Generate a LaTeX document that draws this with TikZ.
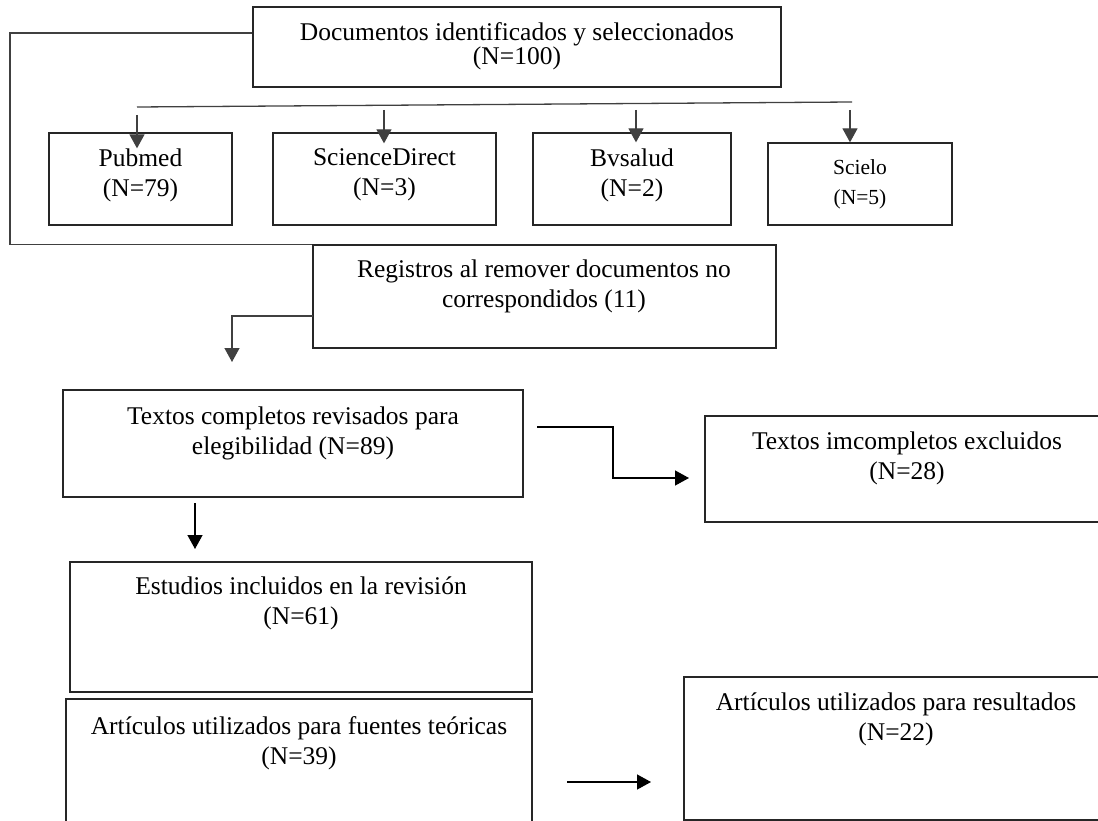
\documentclass[tikz,border=0pt]{standalone}
\usepackage{fontspec}
\setmainfont{Liberation Serif}
\usetikzlibrary{arrows.meta}
\definecolor{gl}{HTML}{404040}
\begin{document}
\begin{tikzpicture}[x=1pt,y=-1pt,
  box/.style={draw=black!85, line width=1.3pt, inner sep=0pt},
  lbl/.style={align=center, inner sep=0pt, font=\fontsize{25.5}{30}\selectfont},
  lbltight/.style={align=center, inner sep=0pt, font=\fontsize{25.5}{24}\selectfont},
  lblsmall/.style={align=center, inner sep=0pt, font=\fontsize{21.5}{30}\selectfont},
  gline/.style={draw=gl, line width=1.3pt},
  garr/.style={gline, -{Triangle[width=15pt,length=14pt]}},
  barr/.style={draw=black, line width=1.3pt, -{Triangle[width=15pt,length=14pt]}},
]
\useasboundingbox (0,0) rectangle (1098,821);

% boxes
\node[box, minimum width=528pt, minimum height=80pt] (top) at (517,47) {};
\node[box, minimum width=183pt, minimum height=92pt] (pub) at (140.5,179) {};
\node[box, minimum width=223pt, minimum height=92pt] (sci) at (384.5,179) {};
\node[box, minimum width=198pt, minimum height=92pt] (bvs) at (632,179) {};
\node[box, minimum width=184pt, minimum height=82pt] (sce) at (860,184) {};
\node[box, minimum width=463pt, minimum height=103pt] (reg) at (544.5,296.5) {};
\node[box, minimum width=460pt, minimum height=107pt] (txc) at (293,443.5) {};
\node[box, minimum width=404pt, minimum height=106pt] (txi) at (907,469) {};
\node[box, minimum width=462pt, minimum height=130pt] (est) at (301,627) {};
\node[box, minimum width=466pt, minimum height=136pt] (teo) at (299,767) {};
\node[box, minimum width=425pt, minimum height=143pt] (res) at (896.5,748.5) {};

% texts
\node[lbltight] (topt) at (517,46) {Documentos identificados y seleccionados\\(N=100)};
\node[lbl] (pubt) at (140.5,175) {Pubmed\\(N=79)};
\node[lbl] (scit) at (384.5,175) {ScienceDirect\\(N=3)};
\node[lbl] (bvst) at (632,175) {Bvsalud\\(N=2)};
\node[lblsmall] (scet) at (860,184) {Scielo\\(N=5)};
\node[lbl] (regt) at (544,286) {Registros al remover documentos no\\correspondidos (11)};
\node[lbl] (txct) at (293,433) {Textos completos revisados para\\elegibilidad (N=89)};
\node[lbl] (txit) at (907,458) {Textos imcompletos excluidos\\(N=28)};
\node[lbl] (estt) at (301,603) {Estudios incluidos en la revisión\\(N=61)};
\node[lbl] (teot) at (299,743) {Artículos utilizados para fuentes teóricas\\(N=39)};
\node[lbl] (rest) at (896,719) {Artículos utilizados para resultados\\(N=22)};

% bracket from top box to Registros
\coordinate (brk) at (10,33);
\draw[gline] (top.west |- brk) -| (brk |- reg.north) -- (reg.north west);

% distribution line
\coordinate (dl) at (137,107);
\coordinate (dr) at (852,102);
\draw[gline] (dl) -- (dr);

\coordinate (s1) at (137,115);
\coordinate (s2) at (384,110);
\coordinate (s3) at (636,110);
\coordinate (s4) at (850,110);
\draw[garr, shorten >=-16pt] (s1) -- (s1 |- pub.north);
\draw[garr, shorten >=-11pt] (s2) -- (s2 |- sci.north);
\draw[garr, shorten >=-10pt] (s3) -- (s3 |- bvs.north);
\draw[garr] (s4) -- (s4 |- sce.north);

% Registros -> Textos completos
\coordinate (rs) at (313,316);
\coordinate (re) at (232,362);
\draw[garr] (rs) -| (re);

% Textos completos -> Estudios
\coordinate (ts) at (195,503);
\coordinate (te) at (195,549);
\draw[barr] (ts) -- (te);

% Textos completos -> Textos imcompletos
\coordinate (xs) at (537,427);
\coordinate (xm) at (613,478);
\coordinate (xe) at (689,478);
\draw[barr] (xs) -| (xm) -- (xe);

% teoricas -> resultados
\coordinate (ps) at (567,782);
\coordinate (pe) at (651,782);
\draw[barr] (ps) -- (pe);
\end{tikzpicture}
\end{document}
